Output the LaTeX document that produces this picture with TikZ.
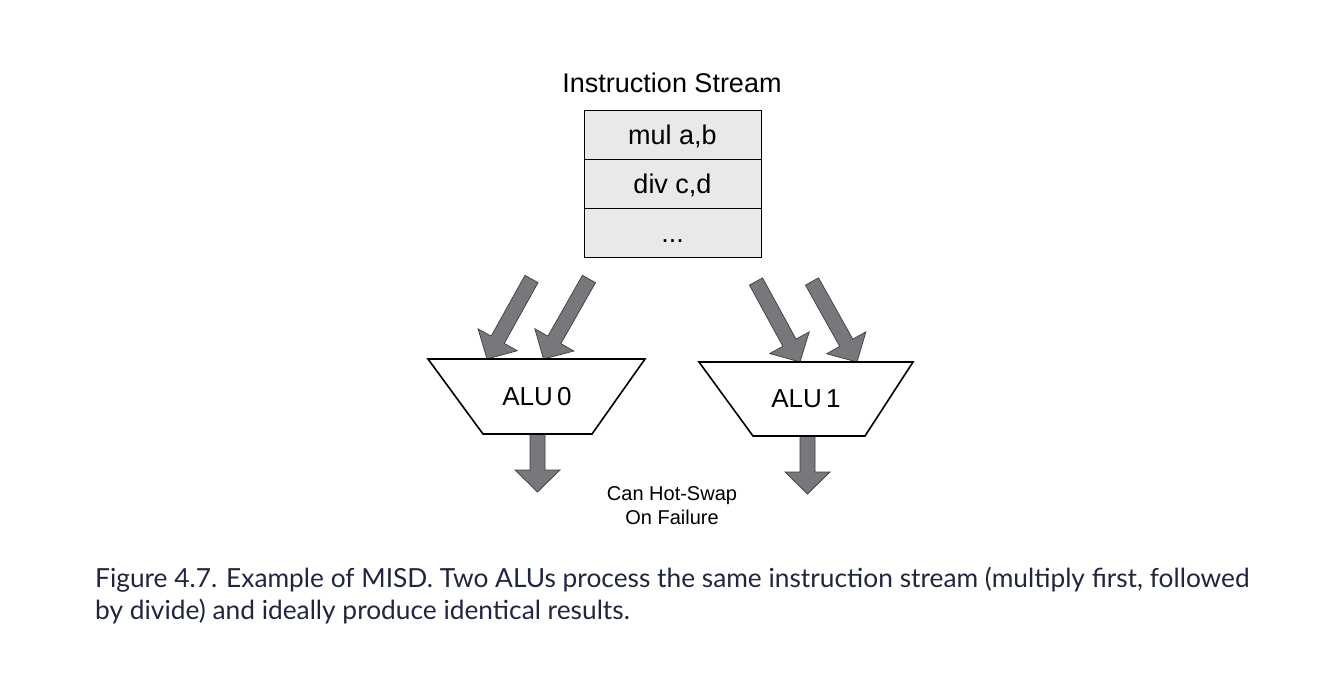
\documentclass[tikz,border=0pt]{standalone}
\usepackage{fontspec}
\setmainfont{Liberation Sans}
\newfontfamily\captionfont{Lato}
\usetikzlibrary{calc,positioning}

\definecolor{cellgray}{HTML}{E8E9EA}
\definecolor{arrowgray}{HTML}{76787B}
\definecolor{arrowedge}{HTML}{3C3D3F}
\definecolor{captionblue}{HTML}{1E2640}

% block arrow from tail #1 to tip #2
\newcommand\fatarrow[2]{%
    \coordinate (h) at ($(#2)!22pt!(#1)$);
    \filldraw[fat] ($(#1)!7.5pt!90:(#2)$) -- ($(h)!7.5pt!-90:(#1)$) -- ($(h)!22.5pt!-90:(#1)$)
        -- (#2) -- ($(h)!22.5pt!90:(#1)$) -- ($(h)!7.5pt!90:(#1)$) -- ($(#1)!7.5pt!-90:(#2)$) -- cycle;
}

\tikzset{
    cell/.style={draw, fill=cellgray, line width=1, minimum width=177, minimum height=49,
        inner sep=0pt, outer sep=0pt, text height=19pt, text depth=0pt,
        font=\fontsize{27}{32}\selectfont},
    alu/.style={draw, fill=white, line width=1.6},
    fat/.style={fill=arrowgray, draw=arrowedge, line width=0.7},
    label/.style={font=\fontsize{26}{30}\selectfont},
}

\begin{document}
\begin{tikzpicture}[x=1pt, y=-1pt]
    \useasboundingbox (0,0) rectangle (1342,673);

    % instruction stream
    \node[font=\fontsize{27}{32}\selectfont, anchor=base] (title) at (672,92) {Instruction Stream};
    \node[cell] (mul) at (672.5,134.5) {mul a,b};
    \node[cell, below=0pt of mul] (div) {div c,d};
    \node[cell, below=0pt of div] (more) {...};

    % arrow ends
    \coordinate (in00) at (531.5,279);
    \coordinate (in01) at (589,279);
    \coordinate (in10) at (756,281.5);
    \coordinate (in11) at (812,281.5);
    \coordinate (alu0a) at (487,359);
    \coordinate (alu0b) at (543.5,359);
    \coordinate (alu1a) at (800,362);
    \coordinate (alu1b) at (857,362);
    \coordinate (alu0out) at (537.5,434);
    \coordinate (alu1out) at (807.5,436);
    \coordinate (res0) at (537.5,492);
    \coordinate (res1) at (807.5,494);

    \fatarrow{in00}{alu0a}
    \fatarrow{in01}{alu0b}
    \fatarrow{in10}{alu1a}
    \fatarrow{in11}{alu1b}
    \fatarrow{alu0out}{res0}
    \fatarrow{alu1out}{res1}

    % ALUs
    \draw[alu] (428,359) -- (645,359) -- (592,434) -- (483,434) -- cycle;
    \node[label] (alu0) at (537,397) {ALU\,0};
    \draw[alu] (699,362) -- (913,362) -- (865,436) -- (753,436) -- cycle;
    \node[label] (alu1) at (806,399) {ALU\,1};

    \node[font=\fontsize{20}{24}\selectfont, align=center] (swap) at (672,506) {Can Hot-Swap\\On Failure};

    % caption
    \node[anchor=north west, inner sep=0pt, align=left, text=captionblue,
        font=\captionfont\fontsize{26.3}{31.5}\selectfont] (caption) at (95,567)
        {Figure 4.7. Example of MISD. Two ALUs process the same instruction stream (multiply first, followed\\
         by divide) and ideally produce identical results.};
\end{tikzpicture}
\end{document}
